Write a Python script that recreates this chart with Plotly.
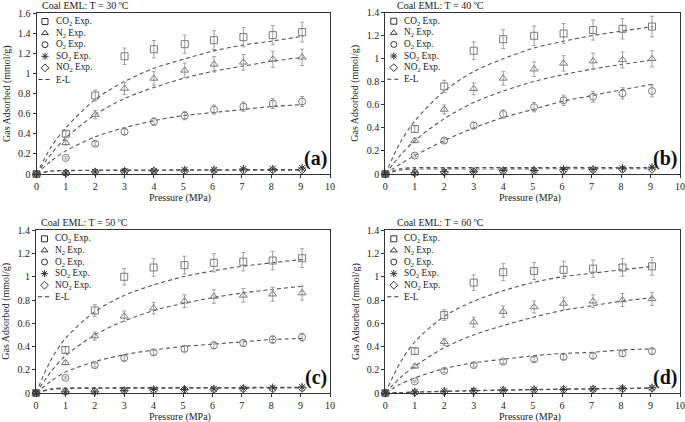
import plotly.graph_objects as go

W, H = 685, 422

# ---------------- data ----------------
pressure = [0, 1.0, 2.0, 3.0, 4.0, 5.05, 6.05, 7.05, 8.05, 9.05]
el_pressure = [0, 0.5, 1, 2, 3, 4, 5, 6, 7, 8, 9.1]
x_tick_vals = list(range(0, 11))
temperatures = [30, 40, 50, 60]
panel_tags = ["(a)", "(b)", "(c)", "(d)"]
y_max = [1.6, 1.4, 1.4, 1.4]
gas_labels = ["CO<sub>2</sub> Exp.", "N<sub>2</sub> Exp.", "O<sub>2</sub> Exp.",
              "SO<sub>2</sub> Exp.", "NO<sub>2</sub> Exp."]
model_label = "E-L"

# experimental points (mmol/g)
co2_30 = [0, 0.40, 0.78, 1.17, 1.24, 1.29, 1.33, 1.36, 1.38, 1.41]
n2_30 = [0, 0.31, 0.59, 0.85, 0.95, 1.03, 1.09, 1.11, 1.14, 1.16]
o2_30 = [0, 0.16, 0.30, 0.42, 0.52, 0.58, 0.64, 0.67, 0.70, 0.72]
so2_30 = [0, 0.01, 0.02, 0.03, 0.03, 0.04, 0.04, 0.05, 0.05, 0.06]
no2_30 = [0, 0.01, 0.02, 0.025, 0.03, 0.03, 0.035, 0.035, 0.04, 0.04]

co2_40 = [0, 0.39, 0.76, 1.07, 1.17, 1.20, 1.22, 1.25, 1.26, 1.28]
n2_40 = [0, 0.29, 0.56, 0.74, 0.83, 0.91, 0.96, 0.98, 0.99, 1.00]
o2_40 = [0, 0.16, 0.29, 0.42, 0.52, 0.58, 0.64, 0.67, 0.70, 0.72]
so2_40 = [0, 0.01, 0.02, 0.02, 0.03, 0.03, 0.04, 0.04, 0.05, 0.06]
no2_40 = [0, 0.01, 0.015, 0.02, 0.025, 0.03, 0.03, 0.035, 0.04, 0.04]

co2_50 = [0, 0.37, 0.71, 1.00, 1.08, 1.10, 1.12, 1.13, 1.14, 1.16]
n2_50 = [0, 0.26, 0.49, 0.66, 0.73, 0.79, 0.83, 0.84, 0.85, 0.86]
o2_50 = [0, 0.13, 0.24, 0.30, 0.35, 0.38, 0.41, 0.43, 0.46, 0.48]
so2_50 = [0, 0.01, 0.01, 0.02, 0.03, 0.03, 0.035, 0.04, 0.045, 0.05]
no2_50 = [0, 0.01, 0.015, 0.02, 0.025, 0.03, 0.03, 0.035, 0.035, 0.04]

co2_60 = [0, 0.36, 0.67, 0.95, 1.04, 1.05, 1.06, 1.07, 1.08, 1.09]
n2_60 = [0, 0.23, 0.44, 0.61, 0.70, 0.74, 0.77, 0.79, 0.80, 0.81]
o2_60 = [0, 0.10, 0.19, 0.24, 0.27, 0.29, 0.31, 0.32, 0.34, 0.36]
so2_60 = [0, 0.01, 0.015, 0.02, 0.025, 0.03, 0.03, 0.035, 0.04, 0.045]
no2_60 = [0, 0.005, 0.01, 0.015, 0.02, 0.025, 0.03, 0.03, 0.035, 0.04]

# E-L model curves
el_co2_30 = [0, 0.27, 0.46, 0.74, 0.92, 1.05, 1.14, 1.22, 1.28, 1.32, 1.37]
el_n2_30 = [0, 0.20, 0.36, 0.59, 0.75, 0.86, 0.95, 1.02, 1.07, 1.12, 1.16]
el_o2_30 = [0, 0.13, 0.23, 0.37, 0.46, 0.53, 0.58, 0.61, 0.64, 0.67, 0.69]
el_so2_30 = [0, 0.030, 0.036, 0.038, 0.039, 0.040, 0.041, 0.042, 0.043, 0.044, 0.045]
el_no2_30 = [0, 0.028, 0.033, 0.035, 0.036, 0.037, 0.037, 0.038, 0.038, 0.039, 0.039]

el_co2_40 = [0, 0.27, 0.46, 0.72, 0.89, 1.00, 1.09, 1.15, 1.20, 1.24, 1.28]
el_n2_40 = [0, 0.16, 0.29, 0.48, 0.62, 0.72, 0.80, 0.86, 0.91, 0.95, 0.99]
el_o2_40 = [0, 0.085, 0.16, 0.29, 0.40, 0.49, 0.56, 0.63, 0.68, 0.73, 0.78]
el_so2_40 = [0, 0.045, 0.055, 0.056, 0.056, 0.056, 0.056, 0.057, 0.057, 0.057, 0.057]
el_no2_40 = [0, 0.035, 0.043, 0.044, 0.044, 0.044, 0.045, 0.045, 0.045, 0.045, 0.045]

el_co2_50 = [0, 0.28, 0.47, 0.70, 0.84, 0.93, 1.00, 1.05, 1.09, 1.12, 1.15]
el_n2_50 = [0, 0.18, 0.32, 0.50, 0.62, 0.71, 0.77, 0.82, 0.86, 0.89, 0.92]
el_o2_50 = [0, 0.10, 0.18, 0.27, 0.33, 0.37, 0.40, 0.42, 0.44, 0.46, 0.47]
el_so2_50 = [0, 0.035, 0.043, 0.045, 0.046, 0.046, 0.047, 0.047, 0.048, 0.048, 0.048]
el_no2_50 = [0, 0.030, 0.037, 0.040, 0.041, 0.041, 0.042, 0.042, 0.042, 0.043, 0.043]

el_co2_60 = [0, 0.26, 0.44, 0.66, 0.79, 0.88, 0.95, 1.00, 1.03, 1.06, 1.09]
el_n2_60 = [0, 0.13, 0.23, 0.39, 0.50, 0.58, 0.65, 0.71, 0.75, 0.79, 0.82]
el_o2_60 = [0, 0.075, 0.13, 0.21, 0.26, 0.29, 0.32, 0.34, 0.35, 0.37, 0.38]
el_so2_60 = [0, 0.004, 0.008, 0.015, 0.021, 0.026, 0.030, 0.034, 0.037, 0.040, 0.043]
el_no2_60 = [0, 0.003, 0.007, 0.013, 0.019, 0.024, 0.028, 0.032, 0.035, 0.038, 0.041]

error_percent = [7, 7, 7, 0, 0]  # CO2, N2, O2, SO2, NO2

exp_sets = [
    [co2_30, n2_30, o2_30, so2_30, no2_30],
    [co2_40, n2_40, o2_40, so2_40, no2_40],
    [co2_50, n2_50, o2_50, so2_50, no2_50],
    [co2_60, n2_60, o2_60, so2_60, no2_60],
]
el_sets = [
    [el_co2_30, el_n2_30, el_o2_30, el_so2_30, el_no2_30],
    [el_co2_40, el_n2_40, el_o2_40, el_so2_40, el_no2_40],
    [el_co2_50, el_n2_50, el_o2_50, el_so2_50, el_no2_50],
    [el_co2_60, el_n2_60, el_o2_60, el_so2_60, el_no2_60],
]

# ---------------- style / layout ----------------
FONT = "Liberation Serif, Times New Roman, serif"
FS = 10
LEG_FS = 9.3
symbols = ["square-open", "triangle-up-open", "circle-open", "asterisk-open", "diamond-open"]
marker_colors = ["#7a7a7a", "#7a7a7a", "#7a7a7a", "#333333", "#444444"]
marker_sizes = [7, 7, 7, 7, 6]
curve_color = "#555555"

# panel plot areas in pixels: left, right, top, bottom
panel_px = [(36.5, 330, 13, 174), (385.3, 680, 12.7, 174),
            (36, 330, 230.3, 393), (385.3, 680, 230.3, 393)]
title_dx = [3, 10, 3, 10]

fig = go.Figure()
annotations = []

def px_x(p):
    return p / W

def px_y(p):
    return 1 - p / H

for i in range(4):
    L, R, T, B = panel_px[i]
    n = "" if i == 0 else str(i + 1)
    xa, ya = "x" + n, "y" + n
    # model curves
    for g in range(5):
        fig.add_trace(go.Scatter(
            x=el_pressure, y=el_sets[i][g], mode="lines", xaxis=xa, yaxis=ya,
            line=dict(color=curve_color, width=1.1, dash="4px,3px", shape="spline", smoothing=0.8),
            showlegend=False, hoverinfo="skip", cliponaxis=False))
    # experimental points
    for g in range(5):
        fig.add_trace(go.Scatter(
            x=pressure, y=exp_sets[i][g], mode="markers", xaxis=xa, yaxis=ya,
            marker=dict(symbol=symbols[g], size=marker_sizes[g], color=marker_colors[g],
                        line=dict(width=1, color=marker_colors[g])),
            error_y=dict(type="percent", value=error_percent[g], color="#a0a0a0",
                         thickness=1, width=2, visible=error_percent[g] > 0),
            showlegend=False, cliponaxis=False))

    axis_common = dict(showgrid=False, zeroline=False, showline=True, mirror=True,
                       linecolor="#333333", linewidth=1, ticks="outside", ticklen=3,
                       tickcolor="#333333", automargin=False,
                       tickfont=dict(family=FONT, size=FS, color="#222222"))
    fig.update_layout(**{
        ("xaxis" + n): dict(domain=[px_x(L), px_x(R)], range=[0, 10], tickvals=x_tick_vals,
                            anchor=ya, **axis_common),
        ("yaxis" + n): dict(domain=[px_y(B), px_y(T)], range=[0, y_max[i]], dtick=0.2,
                            anchor=xa, **axis_common),
    })

    # titles
    annotations.append(dict(text=f"Coal EML: T = {temperatures[i]} ºC", xref="paper", yref="paper",
                            x=px_x(L + title_dx[i]), y=px_y(T - 7.5), xanchor="left", yanchor="middle",
                            showarrow=False, font=dict(family=FONT, size=FS, color="#222")))
    annotations.append(dict(text="Gas Adsorbed (mmol/g)", xref="paper", yref="paper",
                            x=px_x(L - 30), y=px_y((T + B) / 2), textangle=-90,
                            xanchor="center", yanchor="middle", showarrow=False,
                            font=dict(family=FONT, size=FS, color="#222")))
    annotations.append(dict(text="Pressure (MPa)", xref="paper", yref="paper",
                            x=px_x((L + R) / 2 - 3), y=px_y(B + 24), xanchor="center",
                            yanchor="middle", showarrow=False,
                            font=dict(family=FONT, size=FS, color="#222")))
    annotations.append(dict(text=f"<b>{panel_tags[i]}</b>", xref="paper", yref="paper",
                            x=px_x(R - 1), y=px_y(B - 2), xanchor="right", yanchor="bottom",
                            showarrow=False, font=dict(family=FONT, size=20, color="#111")))

    # custom legend (legend keys drawn on a pixel overlay)
    sym_x = L + 8.5
    txt_x = L + 17
    row0 = T + 8.5
    step = 11.6
    rows = [row0 + k * step for k in range(6)]
    fig.add_trace(go.Scatter(
        x=[sym_x] * 5, y=rows[:5], mode="markers", xaxis="x5", yaxis="y5",
        marker=dict(symbol=symbols, size=6, color="#333", line=dict(width=1, color="#333")),
        showlegend=False, hoverinfo="skip"))
    fig.add_trace(go.Scatter(
        x=[L + 2, L + 15], y=[rows[5], rows[5]], mode="lines", xaxis="x5", yaxis="y5",
        line=dict(color="#333", width=1.1, dash="4px,3px"), showlegend=False, hoverinfo="skip"))
    for k in range(6):
        label = gas_labels[k] if k < 5 else model_label
        annotations.append(dict(text=label, xref="paper", yref="paper", x=px_x(txt_x),
                                y=px_y(rows[k]), xanchor="left", yanchor="middle",
                                showarrow=False, font=dict(family=FONT, size=LEG_FS, color="#222")))

fig.update_layout(
    xaxis5=dict(domain=[0, 1], range=[0, W], visible=False, anchor="y5", fixedrange=True,
                automargin=False),
    yaxis5=dict(domain=[0, 1], range=[H, 0], visible=False, anchor="x5", fixedrange=True,
                automargin=False),
    width=W, height=H, margin=dict(l=0, r=0, t=0, b=0, pad=0, autoexpand=False),
    paper_bgcolor="white", plot_bgcolor="rgba(0,0,0,0)",
    annotations=annotations, showlegend=False,
    font=dict(family=FONT), template="none",
)

fig.write_html("out.html", config={"displayModeBar": False},
               post_script="document.body.style.margin='0px';document.body.style.overflow='hidden';")
